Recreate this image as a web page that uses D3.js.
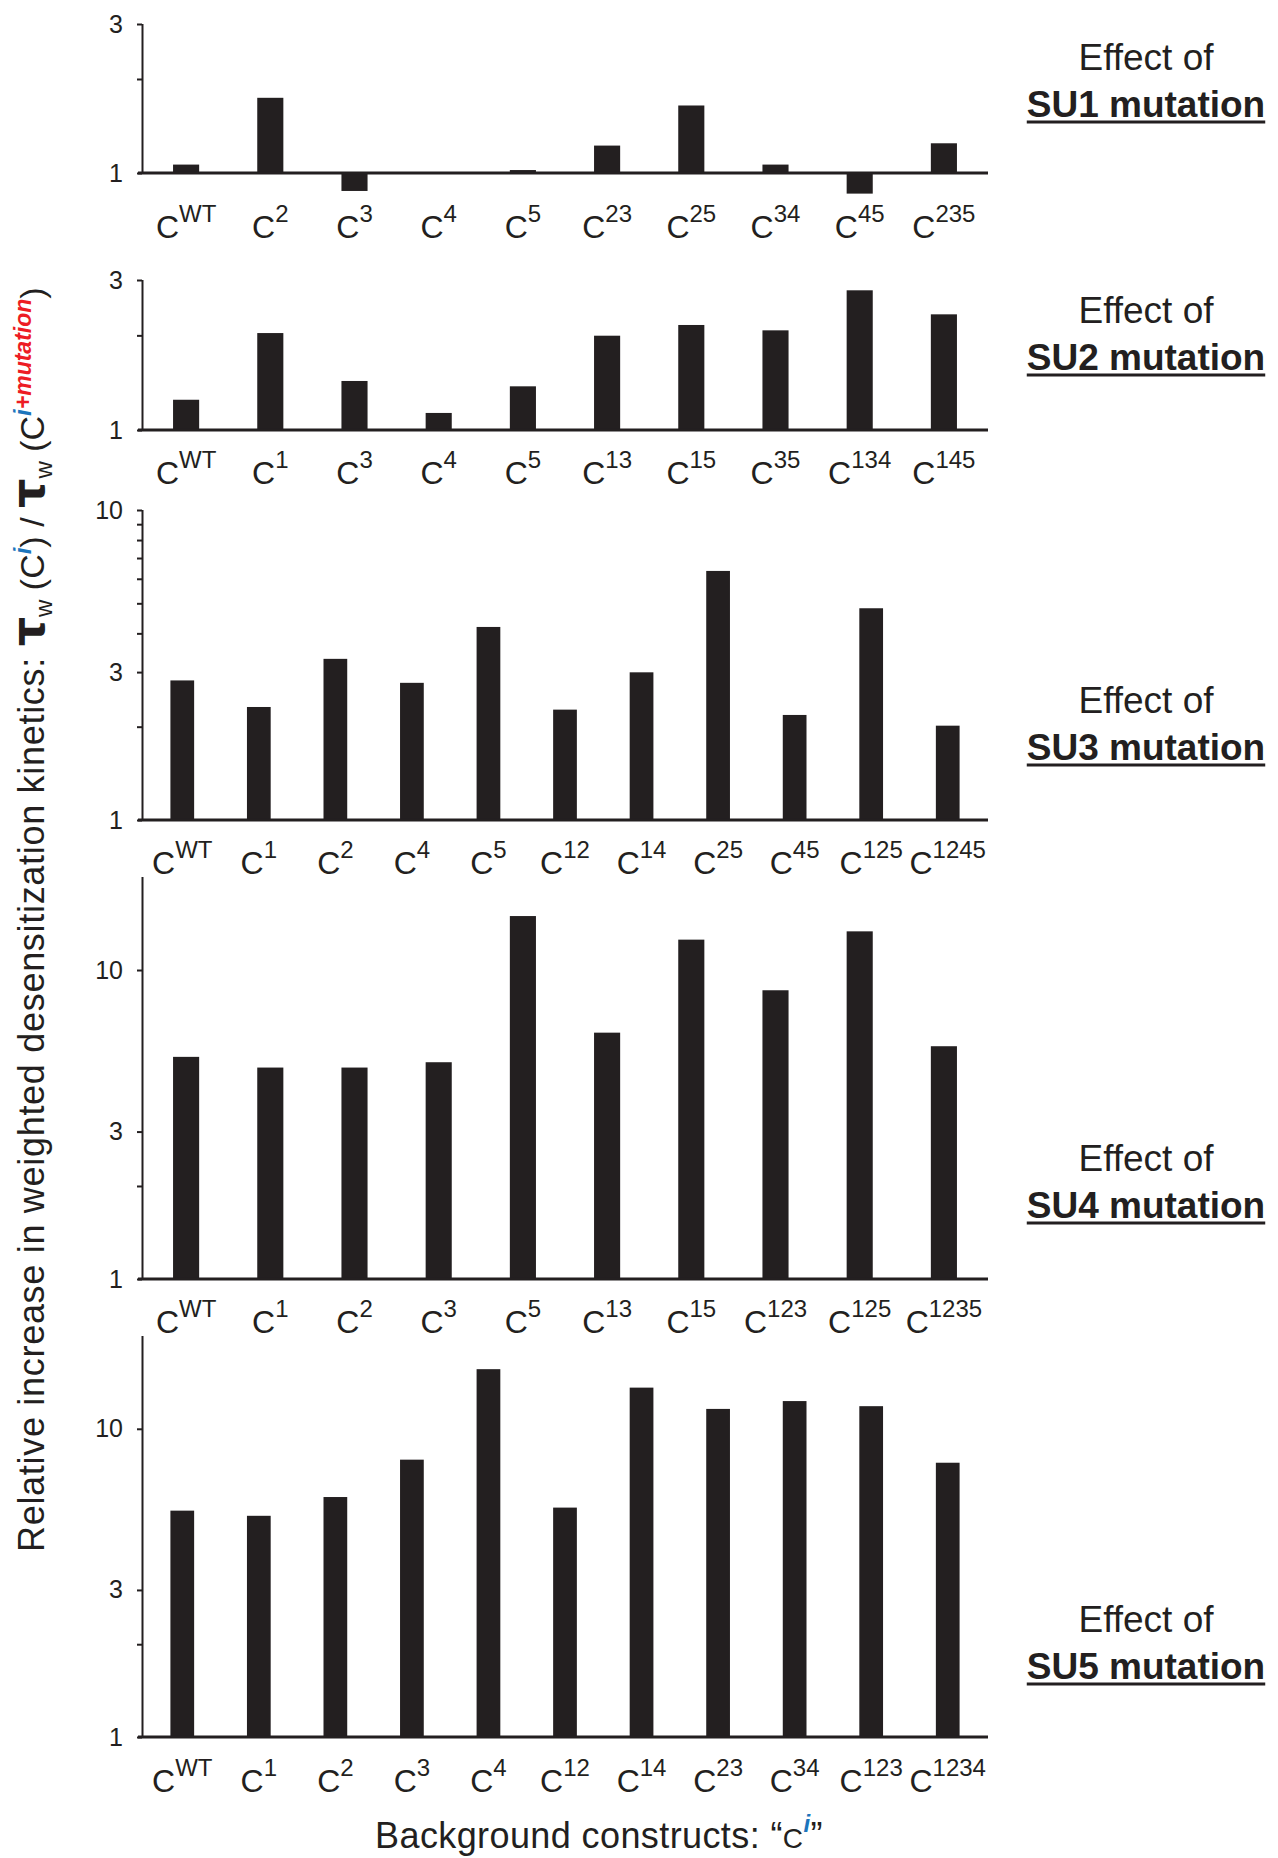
<!DOCTYPE html>
<html>
<head>
<meta charset="utf-8">
<script src="https://cdn.jsdelivr.net/npm/d3@7"></script>
<style>
  html, body { margin: 0; padding: 0; background: #ffffff; }
  svg { display: block; }
  text { font-family: "Liberation Sans", Arial, Helvetica, sans-serif; fill: #231f20; }
</style>
</head>
<body>
<script>
// ---------------- DATA ----------------
const su1Labels = ["WT", "2", "3", "4", "5", "23", "25", "34", "45", "235"];
const su1Values = [1.064, 1.741, 0.876, 0.995, 1.022, 1.224, 1.645, 1.064, 0.859, 1.245];

const su2Labels = ["WT", "1", "3", "4", "5", "13", "15", "35", "134", "145"];
const su2Values = [1.248, 2.034, 1.432, 1.133, 1.377, 1.995, 2.158, 2.075, 2.782, 2.333];

const su3Labels = ["WT", "1", "2", "4", "5", "12", "14", "25", "45", "125", "1245"];
const su3Values = [2.82, 2.315, 3.31, 2.77, 4.195, 2.27, 2.995, 6.36, 2.182, 4.82, 2.015];

const su4Labels = ["WT", "1", "2", "3", "5", "13", "15", "123", "125", "1235"];
const su4Values = [5.235, 4.834, 4.834, 5.03, 14.95, 6.27, 12.54, 8.60, 13.34, 5.667];

const su5Labels = ["WT", "1", "2", "3", "4", "12", "14", "23", "34", "123", "1234"];
const su5Values = [5.425, 5.22, 6.006, 7.94, 15.61, 5.55, 13.6, 11.6, 12.3, 11.84, 7.76];

const mutationNames = ["SU1", "SU2", "SU3", "SU4", "SU5"];

const domainSmall = [1, 3];
const domainMid = [1, 10];
const domainLarge = [1, 20];

const ticksSmall = [1, 2, 3];
const ticksMid = [1, 2, 3, 4, 5, 6, 7, 8, 9, 10];
const ticksLarge = [1, 2, 3, 10];

const tickLabelsSmall = [1, 3];
const tickLabelsMid = [1, 3, 10];
const tickLabelsLarge = [1, 3, 10];

const yTitleMain = "Relative increase in weighted desensitization kinetics: ";
const xTitleMain = "Background constructs: \u201C";

// ---------------- LAYOUT ----------------
const W = 1278, H = 1858;
const ink = "#231f20";
const blue = "#1c75bc";
const red = "#ed1c24";

const axisX = 142;
const xRange = [144, 986];

const panels = [
  { name: mutationNames[0], labels: su1Labels, values: su1Values, domain: domainSmall, ticks: ticksSmall, tickLabels: tickLabelsSmall, top: 24,   bottom: 173,  labelGap: 65, titleY: 70 },
  { name: mutationNames[1], labels: su2Labels, values: su2Values, domain: domainSmall, ticks: ticksSmall, tickLabels: tickLabelsSmall, top: 280,  bottom: 430,  labelGap: 54, titleY: 323 },
  { name: mutationNames[2], labels: su3Labels, values: su3Values, domain: domainMid,   ticks: ticksMid,   tickLabels: tickLabelsMid,   top: 510,  bottom: 820,  labelGap: 54, titleY: 713 },
  { name: mutationNames[3], labels: su4Labels, values: su4Values, domain: domainLarge, ticks: ticksLarge, tickLabels: tickLabelsLarge, top: 877,  bottom: 1279, labelGap: 54, titleY: 1171 },
  { name: mutationNames[4], labels: su5Labels, values: su5Values, domain: domainLarge, ticks: ticksLarge, tickLabels: tickLabelsLarge, top: 1336, bottom: 1737, labelGap: 55, titleY: 1632 }
];

const svg = d3.select("body").append("svg")
  .attr("width", W).attr("height", H)
  .attr("viewBox", `0 0 ${W} ${H}`);

svg.append("rect").attr("width", W).attr("height", H).attr("fill", "#ffffff");

panels.forEach(p => {
  const g = svg.append("g").attr("class", "panel");
  const y = d3.scaleLog().domain(p.domain).range([p.bottom, p.top]);
  const x = d3.scaleBand().domain(p.labels.map((d, i) => i)).range(xRange).paddingInner(0).paddingOuter(0);
  const bw = x.bandwidth() * 0.31;

  // bars
  g.selectAll("rect.bar").data(p.values).join("rect")
    .attr("class", "bar")
    .attr("x", (d, i) => x(i) + x.bandwidth() / 2 - bw / 2)
    .attr("width", bw)
    .attr("y", d => Math.min(y(d), y(1)))
    .attr("height", d => Math.abs(y(d) - y(1)))
    .attr("fill", ink);

  // y axis
  const yAxis = d3.axisLeft(y)
    .tickValues(p.ticks)
    .tickSize(5)
    .tickFormat(d => p.tickLabels.includes(d) ? d3.format("d")(d) : "");
  const ya = g.append("g").attr("transform", `translate(${axisX},0)`).call(yAxis);
  ya.select(".domain").attr("stroke", ink).attr("stroke-width", 2).attr("d", `M0.5,${p.top}V${p.bottom}`);
  ya.selectAll(".tick line").attr("stroke", ink).attr("stroke-width", 2);
  ya.selectAll(".tick text")
    .attr("x", -19)
    .attr("font-size", 25)
    .attr("font-family", "Liberation Sans, Arial, sans-serif")
    .attr("fill", ink);

  // x axis baseline
  g.append("line")
    .attr("x1", axisX - 4).attr("x2", xRange[1] + 2)
    .attr("y1", y(1)).attr("y2", y(1))
    .attr("stroke", ink).attr("stroke-width", 3);

  // x tick labels: C with superscript
  const lab = g.selectAll("text.xl").data(p.labels).join("text")
    .attr("class", "xl")
    .attr("x", (d, i) => x(i) + x.bandwidth() / 2)
    .attr("y", y(1) + p.labelGap)
    .attr("text-anchor", "middle");
  lab.append("tspan").attr("font-size", 32).text("C");
  lab.append("tspan").attr("font-size", 24).attr("dy", -16).text(d => d);

  // panel title on the right
  const cx = 1146;
  g.append("text").attr("x", cx).attr("y", p.titleY)
    .attr("text-anchor", "middle").attr("font-size", 37).text("Effect of");
  const t2 = g.append("text").attr("x", cx).attr("y", p.titleY + 47)
    .attr("text-anchor", "middle").attr("font-size", 37).attr("font-weight", "bold")
    .text(p.name + " mutation");
  const bb = t2.node().getBBox();
  g.append("line")
    .attr("x1", bb.x).attr("x2", bb.x + bb.width)
    .attr("y1", p.titleY + 47 + 5).attr("y2", p.titleY + 47 + 5)
    .attr("stroke", ink).attr("stroke-width", 3);
});

// y axis title (rotated)
const yt = svg.append("text")
  .attr("transform", "translate(44,1552) rotate(-90)")
  .attr("text-anchor", "start")
  .attr("font-size", 34);
yt.append("tspan").attr("font-size", 36).attr("letter-spacing", 0.7).text(yTitleMain);
yt.append("tspan").attr("font-size", 46).attr("font-weight", "bold").attr("font-family", "DejaVu Sans, sans-serif").text("\u03C4");
yt.append("tspan").attr("font-size", 24).attr("dy", 8).text("w");
yt.append("tspan").attr("dy", -8).text(" (C");
yt.append("tspan").attr("font-size", 24).attr("dy", -13).attr("font-weight", "bold").attr("font-style", "italic").style("fill", blue).text("i");
yt.append("tspan").attr("dy", 13).text(") / ");
yt.append("tspan").attr("font-size", 46).attr("font-weight", "bold").attr("font-family", "DejaVu Sans, sans-serif").text("\u03C4");
yt.append("tspan").attr("font-size", 24).attr("dy", 8).text("w");
yt.append("tspan").attr("dy", -8).text(" (C");
yt.append("tspan").attr("font-size", 24).attr("dy", -13).attr("font-weight", "bold").attr("font-style", "italic").style("fill", blue).text("i");
yt.append("tspan").attr("font-size", 23).attr("font-weight", "bold").attr("font-style", "italic").style("fill", red).text("+mutation");
yt.append("tspan").attr("dy", 13).text(")");

// x axis title
const xt = svg.append("text")
  .attr("x", 599).attr("y", 1848)
  .attr("text-anchor", "middle")
  .attr("font-size", 36)
  .attr("letter-spacing", 0.4);
xt.append("tspan").text(xTitleMain);
xt.append("tspan").attr("font-size", 28).text("C");
xt.append("tspan").attr("font-size", 24).attr("dy", -16).attr("font-weight", "bold").attr("font-style", "italic").style("fill", blue).text("i");
xt.append("tspan").attr("dy", 16).text("\u201D");
</script>
</body>
</html>
